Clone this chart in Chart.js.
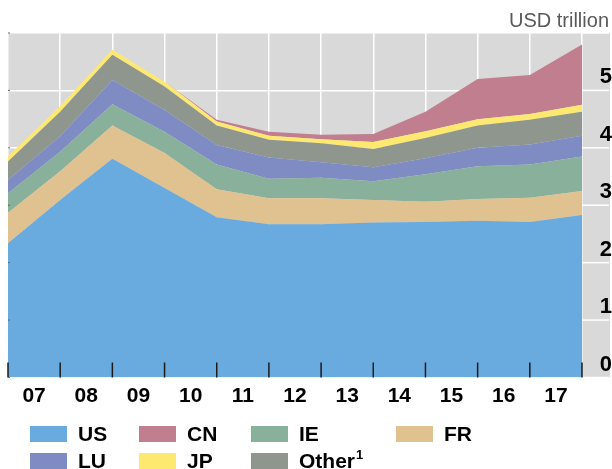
<!DOCTYPE html>
<html>
<head>
<meta charset="utf-8">
<script src="https://cdn.jsdelivr.net/npm/chart.js@4/dist/chart.umd.min.js"></script>
<style>
  html, body { margin: 0; padding: 0; background: #fff; }
  #wrap { width: 612px; height: 469px; position: relative; }
</style>
</head>
<body>
<div id="wrap"><canvas id="stockChart"></canvas></div>
<script>
// year-end observations, end-2006 .. end-2017
var points = ['2006', '2007', '2008', '2009', '2010', '2011', '2012', '2013', '2014', '2015', '2016', '2017'];
// labels sit between the year-end gridlines
var years = ['07', '08', '09', '10', '11', '12', '13', '14', '15', '16', '17'];

// USD trillion
var us    = [2.34, 3.09, 3.81, 3.30, 2.79, 2.67, 2.67, 2.70, 2.71, 2.73, 2.71, 2.83];
var fr    = [0.53, 0.50, 0.58, 0.61, 0.49, 0.45, 0.45, 0.39, 0.35, 0.38, 0.42, 0.42];
var ie    = [0.34, 0.34, 0.37, 0.37, 0.43, 0.34, 0.36, 0.33, 0.48, 0.57, 0.58, 0.60];
var lu    = [0.23, 0.27, 0.42, 0.38, 0.34, 0.37, 0.27, 0.24, 0.28, 0.32, 0.35, 0.36];
var other = [0.32, 0.43, 0.44, 0.41, 0.34, 0.31, 0.33, 0.32, 0.35, 0.39, 0.43, 0.42];
var jp    = [0.09, 0.10, 0.09, 0.08, 0.07, 0.07, 0.07, 0.12, 0.12, 0.11, 0.10, 0.12];
var cn    = [0, 0, 0, 0, 0.03, 0.07, 0.08, 0.14, 0.34, 0.70, 0.68, 1.05];

var FONT = '"Liberation Sans Narrow", "Liberation Sans", Arial, sans-serif';

function area(label, values, color, fill) {
    return {
        label: label,
        data: values,
        backgroundColor: color,
        borderWidth: 0,
        pointRadius: 0,
        tension: 0,
        fill: fill
    };
}

// legend slots: [dataset index, x, y]
var legendSlots = [
    [0, 30, 426], [6, 139, 426], [2, 251, 426], [1, 396, 426],
    [3, 30, 453], [5, 139, 453], [4, 251, 453]
];

var decor = {
    id: 'decor',
    beforeDraw: function (chart) {
        var ctx = chart.ctx, a = chart.chartArea, y = chart.scales.y;
        ctx.save();
        ctx.fillStyle = '#d9d9d9';
        ctx.fillRect(a.left, a.top, chart.width - 2 - a.left, a.bottom - a.top);
        ctx.strokeStyle = '#ffffff';
        ctx.lineWidth = 1.5;
        y.ticks.forEach(function (t) {
            var py = y.getPixelForValue(t.value);
            ctx.beginPath();
            ctx.moveTo(a.right, py);
            ctx.lineTo(chart.width - 3, py);
            ctx.stroke();
        });
        ctx.restore();
    },
    afterDatasetsDraw: function (chart) {
        var ctx = chart.ctx, a = chart.chartArea, x = chart.scales.x, y = chart.scales.y;
        ctx.save();
        ctx.strokeStyle = '#1a1a1a';
        ctx.lineWidth = 1.5;
        for (var i = 0; i < points.length; i++) {
            var px = x.getPixelForValue(i);
            ctx.beginPath();
            ctx.moveTo(px, a.bottom - 15);
            ctx.lineTo(px, a.bottom);
            ctx.stroke();
        }
        ctx.strokeStyle = '#666';
        ctx.lineWidth = 1;
        y.ticks.forEach(function (t) {
            var py = y.getPixelForValue(t.value);
            ctx.beginPath();
            ctx.moveTo(a.left, py);
            ctx.lineTo(a.left + 2, py);
            ctx.stroke();
        });
        ctx.restore();
    },
    afterDraw: function (chart) {
        var ctx = chart.ctx;
        ctx.save();
        ctx.font = '20px "Liberation Sans", Arial, sans-serif';
        ctx.fillStyle = '#595959';
        ctx.textAlign = 'right';
        ctx.textBaseline = 'alphabetic';
        ctx.fillText('USD trillion', 609, 26.5);

        ctx.textAlign = 'left';
        ctx.textBaseline = 'middle';
        legendSlots.forEach(function (s) {
            var ds = chart.data.datasets[s[0]];
            ctx.fillStyle = ds.backgroundColor;
            ctx.fillRect(s[1], s[2], 37, 16);
            ctx.fillStyle = '#000';
            ctx.font = 'bold 21px ' + FONT;
            var name = ds.label, sup = '';
            if (name.slice(-1) === '1') { sup = '1'; name = name.slice(0, -1); }
            ctx.fillText(name, s[1] + 48, s[2] + 9);
            if (sup) {
                var w = ctx.measureText(name).width;
                ctx.font = 'bold 13px ' + FONT;
                ctx.fillText(sup, s[1] + 49 + w, s[2] + 2);
            }
        });
        ctx.restore();
    }
};

var ctx = document.getElementById('stockChart').getContext('2d');
var stockChart = new Chart(ctx, {
    type: 'line',
    data: {
        labels: points,
        datasets: [
            area('US', us, '#69abdf', 'origin'),
            area('FR', fr, '#e0c190', '-1'),
            area('IE', ie, '#89b09a', '-1'),
            area('LU', lu, '#7f8cc4', '-1'),
            area('Other1', other, '#8e968d', '-1'),
            area('JP', jp, '#fde870', '-1'),
            area('CN', cn, '#c17e8e', '-1')
        ]
    },
    options: {
        responsive: true,
        maintainAspectRatio: false,
        animation: false,
        layout: { padding: { left: 8, top: 33, right: 0, bottom: 51.5 } },
        plugins: {
            legend: { display: false },
            tooltip: { enabled: false }
        },
        scales: {
            x: {
                type: 'category',
                offset: false,
                grid: { color: '#ffffff', lineWidth: 1.5, drawTicks: false },
                border: { display: false },
                ticks: { display: false },
                afterFit: function (s) { s.height = 0; }
            },
            x2: {
                type: 'category',
                position: 'bottom',
                labels: years,
                offset: true,
                grid: { display: false, drawTicks: false },
                border: { display: false },
                ticks: {
                    color: '#000',
                    padding: 6.5,
                    maxRotation: 0,
                    autoSkip: false,
                    font: { family: FONT, size: 21, weight: 'bold' }
                },
                afterFit: function (s) { s.height = 40; }
            },
            y: {
                position: 'right',
                stacked: true,
                min: 0,
                max: 6,
                grid: { color: '#ffffff', lineWidth: 1.5, drawTicks: false },
                border: { display: false },
                ticks: {
                    stepSize: 1,
                    color: '#000',
                    padding: 14,
                    crossAlign: 'far',
                    labelOffset: -13,
                    font: { family: FONT, size: 22, weight: 'bold' },
                    callback: function (v) { return v === 6 ? '' : v; }
                },
                afterFit: function (s) { s.width = 30; }
            }
        }
    },
    plugins: [decor]
});
</script>
</body>
</html>
